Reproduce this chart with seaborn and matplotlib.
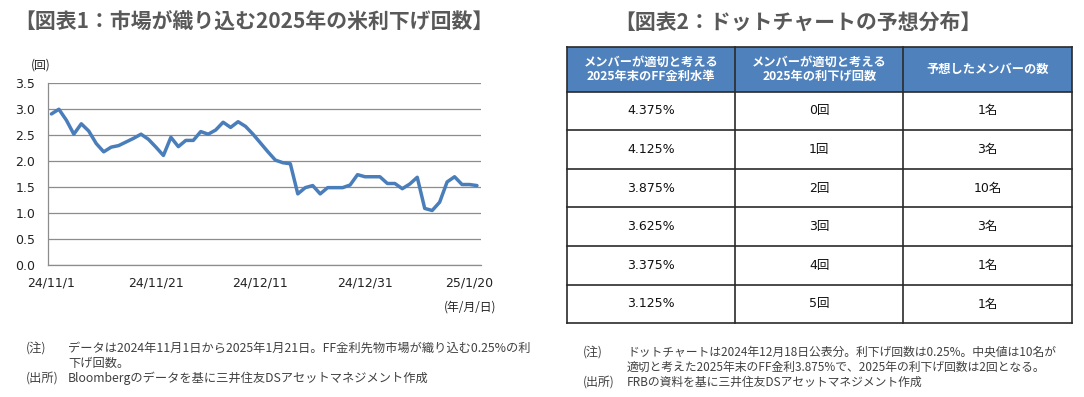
import numpy as np
import pandas as pd
import matplotlib
matplotlib.use("Agg")
import matplotlib.pyplot as plt
from matplotlib.patches import Rectangle
import seaborn as sns

# ---------------- data ----------------
start_date = "2024-11-01"
end_date = "2025-01-21"
cut_counts = [2.91, 3.00, 2.79, 2.52, 2.72, 2.58, 2.34, 2.18, 2.27, 2.30,
              2.37, 2.44, 2.52, 2.42, 2.27, 2.11, 2.46, 2.28, 2.40, 2.40,
              2.57, 2.52, 2.60, 2.75, 2.65, 2.76, 2.67, 2.52, 2.35, 2.18,
              2.02, 1.97, 1.95, 1.37, 1.49, 1.53, 1.37, 1.49, 1.49, 1.49,
              1.54, 1.74, 1.70, 1.70, 1.70, 1.57, 1.57, 1.47, 1.56, 1.69,
              1.09, 1.05, 1.21, 1.60, 1.70, 1.55, 1.55, 1.53]
tick_dates = ["2024-11-01", "2024-11-21", "2024-12-11", "2024-12-31", "2025-01-20"]
tick_labels = ["24/11/1", "24/11/21", "24/12/11", "24/12/31", "25/1/20"]
y_ticks = [0.0, 0.5, 1.0, 1.5, 2.0, 2.5, 3.0, 3.5]

table_header = ["メンバーが適切と考える\n2025年末のFF金利水準",
                "メンバーが適切と考える\n2025年の利下げ回数",
                "予想したメンバーの数"]
ff_levels = ["4.375%", "4.125%", "3.875%", "3.625%", "3.375%", "3.125%"]
cuts = ["0回", "1回", "2回", "3回", "4回", "5回"]
members = ["1名", "3名", "10名", "3名", "1名", "1名"]

title1 = "【図表1：市場が織り込む2025年の米利下げ回数】"
title2 = "【図表2：ドットチャートの予想分布】"
note1_a = "データは2024年11月1日から2025年1月21日。FF金利先物市場が織り込む0.25%の利"
note1_b = "下げ回数。"
src1 = "Bloombergのデータを基に三井住友DSアセットマネジメント作成"
note2_a = "ドットチャートは2024年12月18日公表分。利下げ回数は0.25%。中央値は10名が"
note2_b = "適切と考えた2025年末のFF金利3.875%で、2025年の利下げ回数は2回となる。"
src2 = "FRBの資料を基に三井住友DSアセットマネジメント作成"

# ---------------- style ----------------
sns.set_theme(style="white")
JP = ["Noto Sans CJK JP", "DejaVu Sans"]
LAT = ["DejaVu Sans", "Noto Sans CJK JP"]
plt.rcParams["font.family"] = LAT

W, H = 1084, 397
fig = plt.figure(figsize=(W / 100, H / 100), dpi=100)
fig.patch.set_facecolor("white")


def fx(x):
    return x / W


def fy(y):
    return 1 - y / H


title_color = "#595959"
note_color = "#404040"
grid_color = "#8c8c8c"
line_color = "#4A7EBB"

# ---------------- left chart ----------------
dates = pd.bdate_range(start_date, end_date)
df = pd.DataFrame({"idx": np.arange(len(dates)), "value": cut_counts})

ax = fig.add_axes([fx(47.7), fy(265), fx(433), 181.7 / H])
sns.lineplot(data=df, x="idx", y="value", ax=ax, color=line_color,
             linewidth=2.5, solid_joinstyle="round")
ax.set_xlim(-0.5, len(df) - 0.5)
ax.set_ylim(0, 3.5)
ax.set_yticks(y_ticks)
ax.set_yticklabels([f"{v:.1f}" for v in y_ticks], fontsize=9, color="#222222",
                   family="DejaVu Sans")
ax.yaxis.grid(True, color=grid_color, linewidth=0.9)
ax.xaxis.grid(False)
ax.set_axisbelow(True)
for s in ["top", "right"]:
    ax.spines[s].set_visible(False)
for s in ["left", "bottom"]:
    ax.spines[s].set_color(grid_color)
    ax.spines[s].set_linewidth(0.9)
tick_pos = [dates.get_loc(pd.Timestamp(d)) for d in tick_dates]
ax.set_xticks(tick_pos)
ax.set_xticklabels(tick_labels, fontsize=9, color="#222222", family="DejaVu Sans")
ax.set_xticks([p - 0.5 for p in tick_pos[1:]], minor=True)
ax.tick_params(axis="x", which="major", length=0, pad=8)
ax.tick_params(axis="x", which="minor", direction="in", length=4,
               color=grid_color, width=0.9)
ax.tick_params(axis="y", length=0, pad=9)
ax.set_xlabel("")
ax.set_ylabel("")

fig.text(fx(41), fy(65), "(回)", fontsize=8.5, family=JP, color="#222222",
         ha="center", va="center")
fig.text(fx(470), fy(307.5), "(年/月/日)", fontsize=8.5, family=JP,
         color="#222222", ha="center", va="center")

fig.text(fx(254), fy(22), title1, fontsize=15, fontweight="bold", family=JP,
         color=title_color, ha="center", va="center")
fig.text(fx(798), fy(22), title2, fontsize=15, fontweight="bold", family=JP,
         color=title_color, ha="center", va="center")

# notes left
fig.text(fx(26), fy(348), "(注)", fontsize=8.8, family=JP, color=note_color, va="center")
fig.text(fx(68), fy(348), note1_a, fontsize=8.8, family=JP, color=note_color, va="center")
fig.text(fx(68), fy(363), note1_b, fontsize=8.8, family=JP, color=note_color, va="center")
fig.text(fx(26), fy(378), "(出所)", fontsize=8.8, family=JP, color=note_color, va="center")
fig.text(fx(68), fy(378), src1, fontsize=8.8, family=JP, color=note_color, va="center")

# notes right
fig.text(fx(583), fy(352), "(注)", fontsize=8.6, family=JP, color=note_color, va="center")
fig.text(fx(627), fy(352), note2_a, fontsize=8.5, family=JP, color=note_color, va="center")
fig.text(fx(627), fy(367), note2_b, fontsize=8.5, family=JP, color=note_color, va="center")
fig.text(fx(583), fy(382), "(出所)", fontsize=8.6, family=JP, color=note_color, va="center")
fig.text(fx(627), fy(382), src2, fontsize=8.5, family=JP, color=note_color, va="center")

# ---------------- right table ----------------
tx0, tx1, ty0, ty1 = 567, 1071.7, 47.3, 323.3
tax = fig.add_axes([fx(tx0), fy(ty1), (tx1 - tx0) / W, (ty1 - ty0) / H])
n_rows = len(ff_levels)
hh = 1.147
total = hh + n_rows
tax.set_xlim(0, 3)
tax.set_ylim(total, 0)
tax.axis("off")

tax.add_patch(Rectangle((0, 0), 3, hh, facecolor="#4F81BD", edgecolor="none"))
for c, txt in enumerate(table_header):
    tax.text(c + 0.5, hh / 2, txt, ha="center", va="center", fontsize=8.8,
             fontweight="bold", color="white", family=JP, linespacing=1.1)

for r in range(n_rows):
    yc = hh + r + 0.5
    for c, col in enumerate([ff_levels, cuts, members]):
        tax.text(c + 0.5, yc, col[r], ha="center", va="center", fontsize=9,
                 color="#111111", family=LAT)

border = "#2a2a2a"
for yl in [0, hh] + [hh + r + 1 for r in range(n_rows)]:
    tax.plot([0, 3], [yl, yl], color=border, lw=1.2, clip_on=False,
             solid_capstyle="projecting")
for xl in [0, 1, 2, 3]:
    tax.plot([xl, xl], [0, total], color=border, lw=1.2, clip_on=False,
             solid_capstyle="projecting")

fig.savefig("out.png", dpi=100, facecolor="white")
